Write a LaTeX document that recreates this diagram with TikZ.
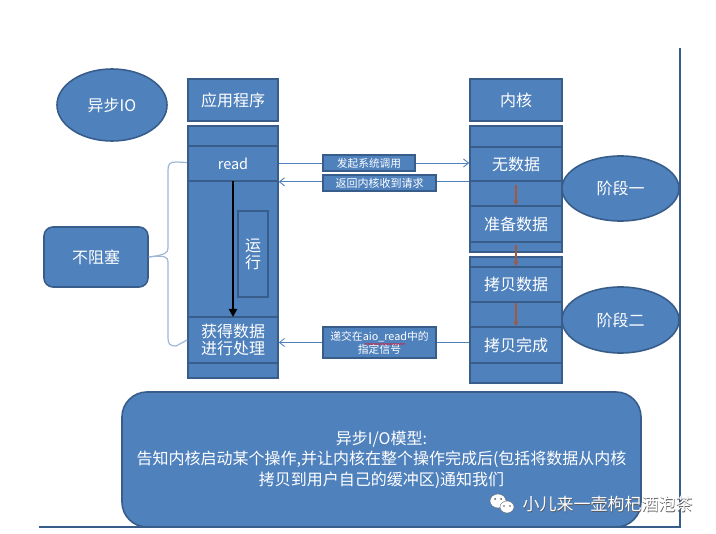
\documentclass[tikz,border=0pt]{standalone}
\usepackage{fontspec}
\setmainfont{Noto Sans CJK SC}
\usetikzlibrary{arrows.meta,shapes.geometric,decorations.pathmorphing}
\definecolor{bfill}{HTML}{4F81BD}
\definecolor{bedge}{HTML}{385D8A}
\definecolor{brace}{HTML}{9DB7D5}
\definecolor{brownarr}{HTML}{A5573C}
\definecolor{squiggle}{HTML}{D02040}
\definecolor{wmshadow}{HTML}{555555}
\newcommand{\pxbox}[7][]{\node[bx,#1,minimum width={#5-#3},minimum height={#6-#4}] (#2) at ({(#3+#5)/2},{(#4+#6)/2}) {#7};}
\newcommand{\pxell}[6]{\node[el,minimum width={#4-#2},minimum height={#5-#3}] (#1) at ({(#2+#4)/2},{(#3+#5)/2}) {#6};}
\tikzset{
 bx/.style={draw=bedge,fill=bfill,line width=1.6pt,inner sep=0pt,text=white,font=\fontsize{16}{17}\selectfont,align=center},
 el/.style={ellipse,draw=bedge,fill=bfill,line width=1.6pt,inner sep=0pt,text=white,font=\fontsize{16}{17}\selectfont,align=center},
 conn/.style={draw=bfill,line width=0.9pt},
 tip/.style={-{Straight Barb[length=5pt,width=8pt]}},
 brownline/.style={draw=brownarr,line width=1.1pt,-{Stealth[length=5pt,width=5pt]}},
 bracel/.style={draw=brace,line width=1.2pt}
}
\begin{document}
\begin{tikzpicture}[x=1pt,y=-1pt]
\useasboundingbox (0,0) rectangle (716,534);
% frame lines
\coordinate (ftop) at (680,48);
\coordinate (fcorner) at (680,527);
\coordinate (fleft) at (39,527);
\draw[bedge,line width=1.4pt] (ftop) -- (fcorner) -- (fleft);
% title
\pxell{title}{57}{69}{167}{141}{异步IO}
\pxbox{app}{188}{79}{278}{121}{应用程序}
\pxbox{kern}{470}{79}{562}{121}{内核}
% left column
\pxbox{appcol}{188}{126}{278}{378}{}
\pxbox[font=\fontsize{14.5}{15}\selectfont]{read}{188}{146}{278}{181}{read}
\pxbox{get}{188}{317}{278}{363}{获得数据\\进行处理}
\pxbox{run}{238}{211}{268}{297}{运\\行}
\draw[black,line width=2pt,-{Triangle[length=8pt,width=8pt]}] (233,181) -- (233,317);
% right columns
\pxbox{kcolA}{470}{126}{562}{252}{}
\pxbox{nodata}{470}{147}{562}{181}{无数据}
\pxbox{prep}{470}{206}{562}{242}{准备数据}
\pxbox{kcolB}{470}{257}{562}{383}{}
\pxbox{copy}{470}{267}{562}{302}{拷贝数据}
\pxbox{done}{470}{327}{562}{363}{拷贝完成}
\draw[brownline] ([yshift=-3pt]nodata.south) -- (prep.north);
\draw[brownline] ([yshift=-2pt]prep.south) -- (copy.north);
\draw[brownline] (copy.south) -- (done.north);
% stage ellipses
\pxell{stageA}{562}{156}{679}{221}{阶段一}
\pxell{stageB}{562}{287}{679}{353}{阶段二}
% message labels
\pxbox[font=\fontsize{10.7}{12}\selectfont]{sys}{323}{155}{415}{171}{发起系统调用}
\pxbox[font=\fontsize{11}{12}\selectfont]{ret}{323}{175}{436}{191}{返回内核收到请求}
\pxbox[font=\fontsize{10.8}{13}\selectfont]{sig}{323}{327}{436}{358}{递交在aio\_read中的\\指定信号}
\draw[squiggle,line width=0.6pt,decorate,decoration={snake,amplitude=0.5pt,segment length=2.5pt}] (365,344) -- (405,344);
\draw[conn] (read.east |- sys.west) -- (sys.west);
\draw[conn,tip] (sys.east) -- (nodata.west |- sys.east);
\draw[conn] (nodata.south west) -- (ret.east |- nodata.south west);
\draw[conn,tip] (ret.west |- read.south east) -- (read.south east);
\draw[conn] (done.west |- sig.east) -- (sig.east);
\draw[conn,tip] (sig.west) -- (get.east |- sig.west);
% brace
\node[bx,rounded corners=9pt,minimum width=104pt,minimum height=60pt] (nb) at (96,257) {不阻塞};
\draw[bracel] (read.west) ++(0,-1) -- (176,162) .. controls (170,162) and (168,164) .. (168,170) -- (168,248) .. controls (168,253) and (165,255) .. (nb.east);
\draw[bracel] (nb.east) .. controls (165,255) and (168,257) .. (168,262) -- (168,338) .. controls (168,344) and (170,346) .. (176,346) -- (get.west);
% summary
\node[bx,rounded corners=25pt,minimum width=519pt,minimum height=135pt,font=\fontsize{16}{20.5}\selectfont] (sum) at (381.5,459.5) {异步I/O模型:\\告知内核启动某个操作,并让内核在整个操作完成后(包括将数据从内核\\拷贝到用户自己的缓冲区)通知我们};
% watermark
\fill[white,draw=wmshadow,line width=0.3pt] (498,501) ellipse (8 and 7);
\fill[white,draw=wmshadow,line width=0.3pt] (507,507) ellipse (7 and 6);
\fill[wmshadow] (495,499) circle (1) (501,499) circle (1) (504,506) circle (0.8) (510,506) circle (0.8);
\node[text=wmshadow,font=\fontsize{17}{18}\selectfont,inner sep=0pt] (wmshade) at (608.2,504.7) {小儿来一壶枸杞酒泡茶};
\node[text=white,font=\fontsize{17}{18}\selectfont,inner sep=0pt] (wm) at (607.5,504) {小儿来一壶枸杞酒泡茶};
\end{tikzpicture}
\end{document}
